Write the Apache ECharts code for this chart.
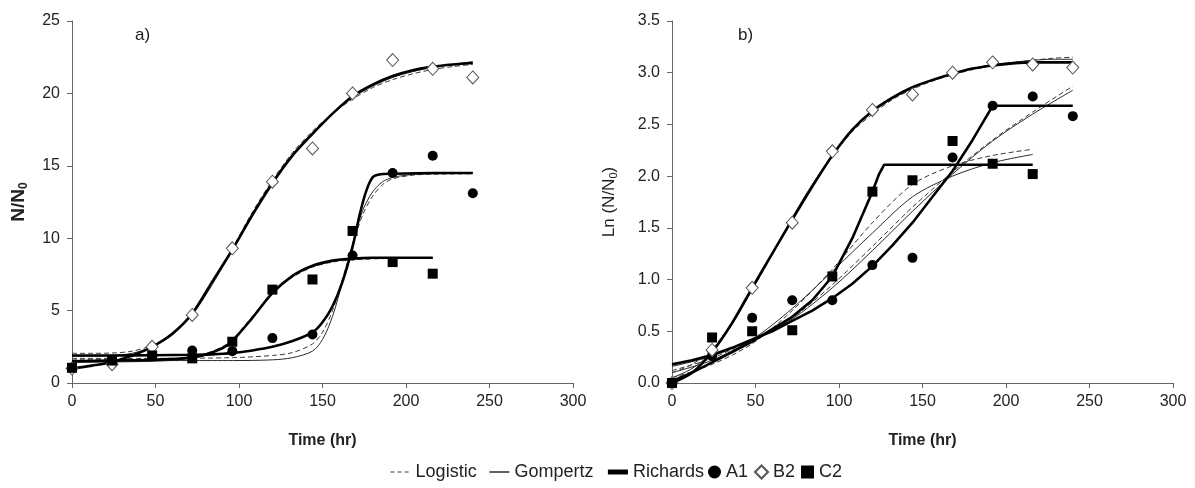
<!DOCTYPE html>
<html>
<head>
<meta charset="utf-8">
<script src="https://cdn.jsdelivr.net/npm/echarts@6/dist/echarts.min.js"></script>
<style>
  html, body { margin: 0; padding: 0; background: #fff; }
  #chart { width: 1195px; height: 488px; }
</style>
</head>
<body>
<div id="chart"></div>
<script>
// observed sampling times (hr)
var hours = [0, 24, 48, 72, 96, 120, 144, 168, 192, 216, 240];

// a) N/N0 observations
var a1N = [1.0, 1.6, 1.85, 2.25, 2.2, 3.1, 3.35, 8.8, 14.5, 15.7, 13.1];
var b2N = [1.0, 1.3, 2.5, 4.7, 9.3, 13.9, 16.2, 20.0, 22.3, 21.7, 21.1];
var c2N = [1.05, 1.55, 1.9, 1.7, 2.85, 6.45, 7.15, 10.5, 8.35, 7.55];

// b) Ln(N/N0) observations
var a1Ln = [0.0, 0.26, 0.63, 0.8, 0.8, 1.14, 1.21, 2.18, 2.68, 2.77, 2.58];
var b2Ln = [0.0, 0.32, 0.92, 1.55, 2.24, 2.64, 2.79, 3.0, 3.1, 3.08, 3.05];
var c2Ln = [0.0, 0.44, 0.5, 0.51, 1.03, 1.85, 1.96, 2.34, 2.12, 2.02];

// a) fitted curves [hr, N/N0]
var nA1Logistic = [[0,1.7],[48,1.7],[96,1.75],[120,1.9],[132,2.1],[144,2.7],[150,3.5],[156,5.0],[162,7.2],[168,9.5],[174,11.6],[180,12.9],[186,13.7],[192,14.1],[204,14.35],[216,14.42],[240,14.45]];
var nA1Gompertz = [[0,1.55],[96,1.55],[120,1.6],[132,1.75],[144,2.2],[150,3.0],[156,4.6],[162,7.0],[168,9.6],[174,11.9],[180,13.2],[186,13.9],[192,14.2],[204,14.4],[216,14.45],[240,14.5]];
var nA1Richards = [[0,1.9],[24,1.9],[48,1.92],[72,1.95],[84,1.98],[96,2.07],[108,2.25],[120,2.5],[132,2.9],[144,3.5],[150,4.2],[156,5.3],[162,7.0],[168,9.4],[172,11.5],[176,13.2],[180,14.2],[184,14.4],[192,14.45],[216,14.5],[240,14.5]];
var nB2Logistic = [[0,2.05],[12,2.05],[24,2.07],[36,2.2],[48,2.6],[60,3.4],[72,4.8],[84,6.9],[96,9.3],[108,11.8],[120,14.0],[132,15.9],[144,17.4],[156,18.6],[168,19.6],[180,20.4],[192,20.95],[204,21.35],[216,21.65],[228,21.85],[240,22.0]];
var nB2Gompertz = [[0,1.85],[12,1.86],[24,1.9],[36,2.05],[48,2.5],[60,3.3],[72,4.7],[84,6.8],[96,9.2],[108,11.7],[120,13.9],[132,15.8],[144,17.3],[156,18.6],[168,19.7],[180,20.5],[192,21.1],[204,21.5],[216,21.8],[228,22.0],[240,22.2]];
var nB2Richards = [[0,1.0],[12,1.2],[24,1.45],[36,1.9],[48,2.5],[60,3.4],[72,4.8],[84,7.0],[96,9.2],[108,11.6],[120,13.8],[132,15.7],[144,17.2],[156,18.6],[168,19.8],[180,20.6],[192,21.2],[204,21.6],[216,21.85],[228,22.0],[240,22.1]];
var nC2Logistic = [[0,1.6],[48,1.62],[66,1.7],[78,1.95],[90,2.5],[96,3.0],[108,4.6],[120,6.2],[132,7.3],[144,8.0],[156,8.35],[168,8.5],[192,8.6],[216,8.6]];
var nC2Gompertz = [[0,1.42],[48,1.5],[66,1.62],[78,1.85],[90,2.45],[96,2.95],[108,4.55],[120,6.3],[132,7.4],[144,8.05],[156,8.4],[168,8.55],[192,8.62],[216,8.65]];
var nC2Richards = [[0,1.5],[24,1.55],[48,1.6],[66,1.7],[78,1.9],[90,2.4],[96,2.9],[108,4.5],[120,6.2],[132,7.4],[144,8.1],[156,8.45],[168,8.6],[180,8.65],[216,8.65]];

// b) fitted curves [hr, Ln(N/N0)]
var lnA1Logistic = [[0,0.12],[24,0.24],[48,0.42],[72,0.63],[96,0.95],[120,1.32],[144,1.7],[168,2.04],[192,2.35],[216,2.62],[240,2.87]];
var lnA1Gompertz = [[0,0.16],[24,0.26],[48,0.42],[72,0.62],[96,0.92],[120,1.28],[144,1.66],[168,2.02],[192,2.34],[216,2.6],[240,2.83]];
var lnA1Richards = [[0,0.18],[12,0.22],[24,0.27],[36,0.34],[48,0.42],[60,0.5],[72,0.6],[84,0.7],[96,0.82],[108,0.96],[120,1.13],[132,1.33],[144,1.55],[156,1.8],[168,2.05],[180,2.35],[192,2.68],[240,2.68]];
var lnB2Logistic = [[0,0.1],[12,0.18],[24,0.33],[36,0.58],[48,0.9],[60,1.24],[72,1.58],[84,1.9],[96,2.19],[108,2.43],[120,2.6],[132,2.74],[144,2.84],[156,2.92],[168,2.98],[180,3.03],[192,3.07],[204,3.1],[216,3.12],[228,3.14],[240,3.15]];
var lnB2Gompertz = [[0,0.05],[12,0.14],[24,0.3],[36,0.57],[48,0.9],[60,1.25],[72,1.6],[84,1.92],[96,2.2],[108,2.44],[120,2.62],[132,2.75],[144,2.85],[156,2.93],[168,2.99],[180,3.04],[192,3.08],[204,3.1],[216,3.12],[228,3.13],[240,3.13]];
var lnB2Richards = [[0,0.0],[12,0.1],[24,0.3],[36,0.58],[48,0.92],[60,1.25],[72,1.58],[84,1.9],[96,2.2],[108,2.45],[120,2.63],[132,2.76],[144,2.86],[156,2.93],[168,2.99],[180,3.04],[192,3.07],[204,3.09],[216,3.1],[228,3.1],[240,3.1]];
var lnC2Logistic = [[0,0.05],[24,0.18],[48,0.38],[72,0.7],[96,1.1],[120,1.55],[144,1.92],[168,2.1],[192,2.2],[216,2.26]];
var lnC2Gompertz = [[0,0.1],[24,0.22],[48,0.42],[72,0.72],[96,1.08],[120,1.45],[144,1.8],[168,2.0],[192,2.13],[216,2.21]];
var lnC2Richards = [[0,0.02],[12,0.1],[24,0.2],[36,0.3],[48,0.4],[60,0.52],[72,0.64],[84,0.8],[96,1.03],[108,1.4],[120,1.85],[124,2.02],[127,2.11],[216,2.11]];

var FONT = '"Liberation Sans", Arial, sans-serif';
var chart = echarts.init(document.getElementById('chart'), null, { renderer: 'canvas' });

var modelStyle = {
    Logistic: { color: '#3a3a3a', width: 1, type: [5, 3] },
    Gompertz: { color: '#2a2a2a', width: 1, type: 'solid' },
    Richards: { color: '#000', width: 2.6, type: 'solid' }
};

function fit(model, pairs, idx, straight) {
    return {
        name: model, type: 'line', xAxisIndex: idx, yAxisIndex: idx,
        data: pairs, symbol: 'none', smooth: straight ? false : 0.3,
        lineStyle: modelStyle[model], itemStyle: { color: modelStyle[model].color },
        z: model === 'Richards' ? 3 : 2, silent: true
    };
}

var markStyle = {
    A1: { symbol: 'circle', symbolSize: 10, itemStyle: { color: '#000', opacity: 1 } },
    B2: { symbol: 'diamond', symbolSize: [12, 13], itemStyle: { color: '#fff', borderColor: '#555', borderWidth: 1, opacity: 1 } },
    C2: { symbol: 'rect', symbolSize: 10, itemStyle: { color: '#000', opacity: 1 } }
};

function obs(name, values, idx) {
    var s = markStyle[name];
    return {
        name: name, type: 'scatter', xAxisIndex: idx, yAxisIndex: idx,
        data: values.map(function (v, i) { return [hours[i], v]; }),
        symbol: s.symbol, symbolSize: s.symbolSize, itemStyle: s.itemStyle, z: 5, silent: true
    };
}

function xAx(idx) {
    return {
        type: 'value', gridIndex: idx, min: 0, max: 300, interval: 50,
        name: 'Time (hr)', nameLocation: 'middle', nameGap: 50,
        nameTextStyle: { fontFamily: FONT, fontSize: 16, fontWeight: 'bold', color: '#222' },
        axisLine: { lineStyle: { color: '#666' } },
        axisTick: { length: 5, lineStyle: { color: '#666' } },
        axisLabel: { fontFamily: FONT, fontSize: 16, color: '#222', margin: 11 },
        splitLine: { show: false }
    };
}

var subRich = {
    sub: { fontFamily: FONT, fontSize: 11, padding: [9, 0, 0, 0] },
    subB: { fontFamily: FONT, fontSize: 12, fontWeight: 'bold', padding: [10, 0, 0, 0] }
};

var legendText = { fontFamily: FONT, fontSize: 18, color: '#222' };
var noSymbol = { opacity: 0 };

chart.setOption({
    animation: false,
    backgroundColor: '#fff',
    textStyle: { fontFamily: FONT },
    title: [
        { text: 'a)', left: 130, top: 22, textStyle: { fontFamily: FONT, fontSize: 17, fontWeight: 'normal', color: '#222' } },
        { text: 'b)', left: 733, top: 22, textStyle: { fontFamily: FONT, fontSize: 17, fontWeight: 'normal', color: '#222' } }
    ],
    legend: [
        {
            bottom: 2, left: 385, itemWidth: 20, itemHeight: 13, itemGap: 12,
            textStyle: legendText,
            data: [
                { name: 'Logistic', itemStyle: noSymbol, lineStyle: { type: [4, 3], width: 1.2 } },
                { name: 'Gompertz', itemStyle: noSymbol, lineStyle: { width: 1.5 } },
                { name: 'Richards', itemStyle: noSymbol, lineStyle: { width: 5 } }
            ]
        },
        {
            bottom: 2, left: 703, itemWidth: 13, itemHeight: 13, itemGap: 6,
            textStyle: legendText,
            data: ['A1', 'B2', 'C2']
        }
    ],
    grid: [
        { left: 72, top: 21, width: 501, height: 362 },
        { left: 672, top: 21, width: 501, height: 362 }
    ],
    xAxis: [xAx(0), xAx(1)],
    yAxis: [
        {
            type: 'value', gridIndex: 0, min: 0, max: 25, interval: 5,
            name: 'N/N{subB|0}', nameLocation: 'middle', nameGap: 42,
            nameTextStyle: { fontFamily: FONT, fontSize: 19, fontWeight: 'bold', color: '#222', rich: subRich },
            axisLine: { show: true, lineStyle: { color: '#666' } },
            axisTick: { show: true, length: 5, lineStyle: { color: '#666' } },
            axisLabel: { fontFamily: FONT, fontSize: 16, color: '#222', margin: 12 },
            splitLine: { show: false }
        },
        {
            type: 'value', gridIndex: 1, min: 0, max: 3.5, interval: 0.5,
            name: 'Ln (N/N{sub|0})', nameLocation: 'middle', nameGap: 53,
            nameTextStyle: { fontFamily: FONT, fontSize: 17, color: '#222', rich: subRich },
            axisLine: { show: true, lineStyle: { color: '#666' } },
            axisTick: { show: true, length: 5, lineStyle: { color: '#666' } },
            axisLabel: { fontFamily: FONT, fontSize: 16, color: '#222', margin: 12,
                formatter: function (v) { return v.toFixed(1); } },
            splitLine: { show: false }
        }
    ],
    series: [
        fit('Logistic', nB2Logistic, 0), fit('Logistic', nA1Logistic, 0), fit('Logistic', nC2Logistic, 0),
        fit('Gompertz', nB2Gompertz, 0), fit('Gompertz', nA1Gompertz, 0), fit('Gompertz', nC2Gompertz, 0),
        fit('Richards', nB2Richards, 0), fit('Richards', nA1Richards, 0), fit('Richards', nC2Richards, 0),
        fit('Logistic', lnB2Logistic, 1), fit('Logistic', lnA1Logistic, 1), fit('Logistic', lnC2Logistic, 1),
        fit('Gompertz', lnB2Gompertz, 1), fit('Gompertz', lnA1Gompertz, 1), fit('Gompertz', lnC2Gompertz, 1),
        fit('Richards', lnB2Richards, 1), fit('Richards', lnA1Richards, 1, true), fit('Richards', lnC2Richards, 1, true),
        obs('A1', a1N, 0), obs('B2', b2N, 0), obs('C2', c2N, 0),
        obs('A1', a1Ln, 1), obs('B2', b2Ln, 1), obs('C2', c2Ln, 1)
    ]
});
</script>
</body>
</html>
